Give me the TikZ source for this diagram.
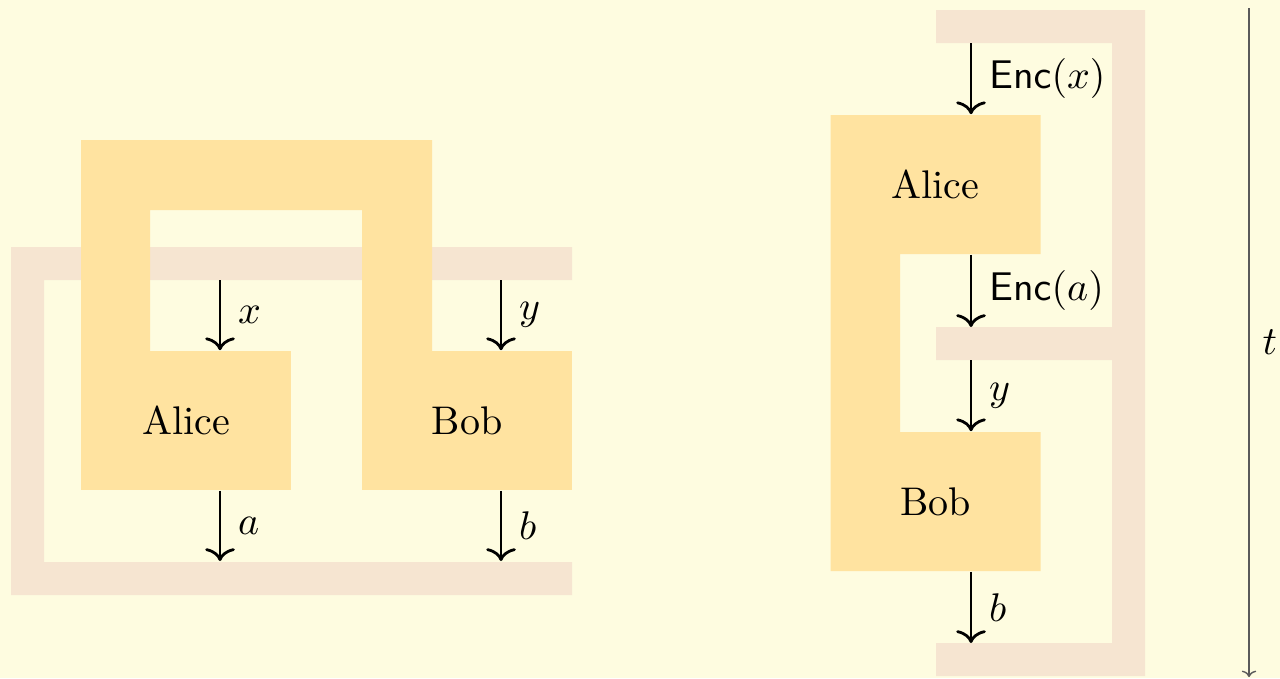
\documentclass[tikz,border=0pt]{standalone}
\usetikzlibrary{arrows.meta}
\definecolor{bgcol}{RGB}{254,252,224}
\definecolor{partycol}{RGB}{255,227,160}
\definecolor{wirecol}{RGB}{246,229,209}
\definecolor{axiscol}{RGB}{90,90,90}
\begin{document}
\begin{tikzpicture}[x=0.25pt,y=-0.25pt,
  party/.style={fill=partycol,draw=none,rectangle,inner sep=0pt,
    minimum width=52.5pt,minimum height=34.75pt,font=\normalsize},
  partyarea/.style={party,fill=none},
  wire/.style={fill=wirecol,draw=none},
  flow/.style={-{To[length=3.2pt,width=7.4pt]},line width=0.7pt,black},
  lbl/.style={right,inner sep=0pt,xshift=4.2pt},
  timeaxis/.style={-{To[length=1.6pt,width=3.6pt]},line width=0.35pt,axiscol}]
\useasboundingbox (0,0) rectangle (1280,678);
\fill[bgcol] (0,0) rectangle (1280,678);

% ---- left: nonlocal game picture ----
% outer wire frame (behind the parties)
\fill[wire] (572,247) -- (11,247) -- (11,595) -- (572,595) -- (572,562)
  -- (44,562) -- (44,280) -- (572,280) -- cycle;
% shared bracket joining Alice and Bob
\fill[partycol] (81,352) -- (81,140) -- (432,140) -- (432,352) -- (362,352)
  -- (362,210) -- (150,210) -- (150,352) -- cycle;
\node[party] (aliceL) at (186,420.5) {Alice};
\node[party] (bobL) at (467,420.5) {Bob};

\coordinate (xin) at (220,280);
\coordinate (yin) at (501,280);
\coordinate (aout) at (220,561);
\coordinate (bout) at (501,561);
\draw[flow] (xin) -- node[lbl] {$x$} (xin |- aliceL.north);
\draw[flow] (yin) -- node[lbl] {$y$} (yin |- bobL.north);
\draw[flow] (aliceL.south -| aout) -- node[lbl] {$a$} (aout);
\draw[flow] (bobL.south -| bout) -- node[lbl] {$b$} (bout);

% ---- right: sequential picture ----
\fill[wire] (936,10) -- (1145,10) -- (1145,676) -- (936,676) -- (936,643)
  -- (1112,643) -- (1112,360) -- (936,360) -- (936,327) -- (1112,327)
  -- (1112,43) -- (936,43) -- cycle;
% Alice and Bob joined by one memory leg, filled as a single shape
\fill[partycol] (830.5,115) -- (1040.5,115) -- (1040.5,254) -- (900,254)
  -- (900,432) -- (1040.5,432) -- (1040.5,571) -- (830.5,571) -- cycle;
\node[partyarea] (aliceR) at (935.5,184.5) {Alice};
\node[partyarea] (bobR) at (935.5,501.5) {Bob};

\coordinate (encx) at (971,43);
\coordinate (enca) at (971,327);
\coordinate (yR) at (971,360);
\coordinate (bR) at (971,643);
\draw[flow] (encx) -- node[lbl] {$\mathsf{Enc}(x)$} (encx |- aliceR.north);
\draw[flow] (aliceR.south -| enca) -- node[lbl] {$\mathsf{Enc}(a)$} (enca);
\draw[flow] (yR) -- node[lbl] {$y$} (yR |- bobR.north);
\draw[flow] (bobR.south -| bR) -- node[lbl] {$b$} (bR);

% ---- time axis ----
\coordinate (tstart) at (1249,8);
\coordinate (tend) at (1249,677);
\draw[timeaxis] (tstart) -- node[right,inner sep=0pt,xshift=3.2pt,text=black] {$t$} (tend);
\end{tikzpicture}
\end{document}
